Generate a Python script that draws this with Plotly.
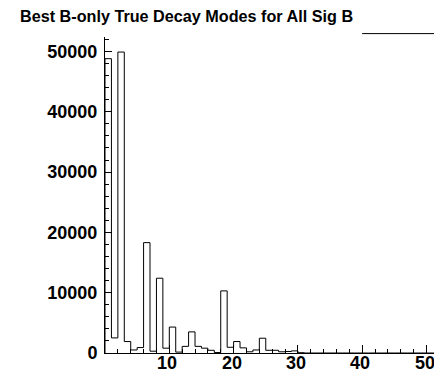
import plotly.graph_objects as go

# Histogram of true decay-mode indices, unit-width bins starting at 0
bin_edges_start = 0
bin_width = 1
counts = [
    48800, 2500, 49900, 1900, 500, 900, 18300, 300, 12400, 800,
    4300, 150, 1100, 3500, 1100, 800, 450, 80, 10300, 950,
    1900, 850, 200, 500, 2450, 450, 450, 200, 250, 350,
    50, 0, 0, 0, 0, 0, 0, 0, 0, 0,
    0, 0, 0, 0, 0, 0, 0, 0, 0, 0,
    0, 0,
]
x_tick_values = [10, 20, 30, 40, 50]
title_text = "Best B-only True Decay Modes for All Sig B"

W, H = 434, 372
left, top, bottom = 104.5, 36.7, 353.5
px_per_unit = 6.44

edges = [bin_edges_start + i * bin_width for i in range(len(counts) + 1)]
# Outline path of the histogram: start on the baseline, step across bins
step_x = [edges[0]] + edges
step_y = [0] + counts + [counts[-1]]

fig = go.Figure()
fig.add_trace(go.Scatter(
    x=step_x, y=step_y, mode="lines",
    line=dict(color="black", width=1, shape="hv"),
    hoverinfo="skip", showlegend=False,
))

x_max = (W - left) / px_per_unit
y_max = 1.05 * max(counts)

font_family = "Liberation Sans, Arial, sans-serif"
tick_font = dict(family=font_family, size=18, color="black", weight="bold")

fig.update_layout(
    width=W, height=H,
    margin=dict(l=left, r=0, t=top, b=H - bottom, pad=0),
    paper_bgcolor="white", plot_bgcolor="white",
    showlegend=False,
    title=dict(
        text=title_text,
        font=dict(family=font_family, size=16.2, color="black", weight="bold"),
        xref="container", yref="container",
        x=20 / W, xanchor="left",
        y=1 - 16 / H, yanchor="middle",
    ),
    xaxis=dict(
        range=[0, x_max], showgrid=False, zeroline=False, automargin=False,
        showline=True, linecolor="black", linewidth=1,
        tickmode="array", tickvals=x_tick_values, showticklabels=False,
        ticks="inside", ticklen=8, tickcolor="black", tickwidth=1,
        minor=dict(tickmode="linear", tick0=0, dtick=2, ticks="inside",
                   ticklen=4, tickcolor="black", tickwidth=1, showgrid=False),
    ),
    yaxis=dict(
        range=[0, y_max], showgrid=False, zeroline=False, automargin=False,
        showline=True, linecolor="black", linewidth=1,
        tickmode="linear", tick0=0, dtick=10000, tickformat="d",
        ticks="inside", ticklen=7, tickcolor="black", tickwidth=1,
        minor=dict(tickmode="linear", tick0=0, dtick=2000, ticks="inside",
                   ticklen=4, tickcolor="black", tickwidth=1, showgrid=False),
        tickfont=tick_font, ticklabelstandoff=3,
    ),
)

# x-axis labels, set tight under the axis line
for v in x_tick_values:
    fig.add_annotation(
        x=v, xref="x", y=0, yref="paper",
        text=str(v), showarrow=False, font=tick_font,
        xanchor="center", yanchor="top", xshift=-2, yshift=2,
    )

# Top border of the statistics box in the upper-right corner
fig.add_shape(
    type="line", xref="paper", yref="paper",
    x0=(362 - left) / (W - left), x1=1.0,
    y0=(bottom - 33.3) / (bottom - top), y1=(bottom - 33.3) / (bottom - top),
    line=dict(color="black", width=1),
)

fig.write_html("out.html")
